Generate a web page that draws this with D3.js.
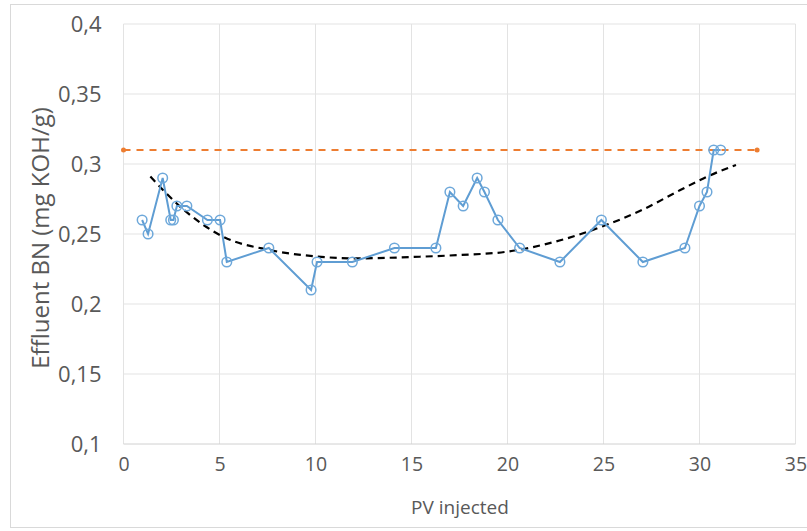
<!DOCTYPE html>
<html>
<head>
<meta charset="utf-8">
<script src="https://cdn.jsdelivr.net/npm/d3@7"></script>
<style>
  html, body { margin: 0; padding: 0; background: #fff; }
  svg { display: block; }
  text { font-family: "Open Sans", sans-serif; fill: #595959; }
</style>
</head>
<body>
<svg id="chart" width="807" height="531"></svg>
<script>
// Effluent base number measured against pore volumes injected
const pvInjected = [0.97, 1.28, 2.04, 2.46, 2.60, 2.78, 3.30, 4.37, 5.03, 5.38, 7.57, 9.77, 10.08,
  11.92, 14.11, 16.27, 17.0, 17.69, 18.42, 18.8, 19.5, 20.63, 22.73, 24.89, 27.05, 29.24, 30.0,
  30.39, 30.74, 31.1];
const effluentBN = [0.26, 0.25, 0.29, 0.26, 0.26, 0.27, 0.27, 0.26, 0.26, 0.23, 0.24, 0.21, 0.23,
  0.23, 0.24, 0.24, 0.28, 0.27, 0.29, 0.28, 0.26, 0.24, 0.23, 0.26, 0.23, 0.24, 0.27,
  0.28, 0.31, 0.31];

// Initial (feed) base number reference line
const feedPV = [0, 33];
const feedBN = [0.31, 0.31];

// Trend line through the effluent values
const trendPV = [1.4, 3.0, 5.2, 7.6, 10.0, 12.0, 15.5, 17.5, 20.0, 22.8, 24.9, 27.0, 29.0, 30.4, 31.9];
const trendBN = [0.291, 0.269, 0.248, 0.2386, 0.234, 0.2326, 0.2338, 0.235, 0.2374, 0.2457, 0.2552,
  0.2671, 0.2814, 0.291, 0.2993];

const xTicks = [0, 5, 10, 15, 20, 25, 30, 35];
const yTicks = [0.1, 0.15, 0.2, 0.25, 0.3, 0.35, 0.4];

const svg = d3.select("#chart");
const plot = { left: 123.5, right: 795.5, top: 24, bottom: 444 };

const x = d3.scaleLinear().domain([0, 35]).range([plot.left, plot.right]);
const y = d3.scaleLinear().domain([0.1, 0.4]).range([plot.bottom, plot.top]);
const fmt = d => String(d).replace(".", ",");

// outer chart frame
svg.append("rect")
  .attr("x", 10.5).attr("y", 4.5).attr("width", 820).attr("height", 523)
  .attr("fill", "none").attr("stroke", "#d9d9d9").attr("stroke-width", 1);

// gridlines
const grid = svg.append("g");
grid.selectAll("line.v").data(xTicks).join("line")
  .attr("x1", d => x(d)).attr("x2", d => x(d))
  .attr("y1", plot.top).attr("y2", plot.bottom)
  .attr("stroke", "#e3e3e3").attr("stroke-width", 1);
grid.selectAll("line.h").data(yTicks).join("line")
  .attr("x1", plot.left).attr("x2", plot.right)
  .attr("y1", d => y(d)).attr("y2", d => y(d))
  .attr("stroke", d => d === 0.1 ? "#d0d0d0" : "#e3e3e3").attr("stroke-width", 1);

// axes (labels only)
const xAxis = svg.append("g").attr("transform", `translate(0,${plot.bottom})`)
  .call(d3.axisBottom(x).tickValues(xTicks).tickFormat(fmt).tickSize(0).tickPadding(13));
const yAxis = svg.append("g").attr("transform", `translate(${plot.left},0)`)
  .call(d3.axisLeft(y).tickValues(yTicks).tickFormat(fmt).tickSize(0).tickPadding(22));
[xAxis, yAxis].forEach(a => {
  a.select(".domain").remove();
  a.selectAll("text").style("font-family", "'Open Sans', sans-serif").attr("fill", "#5f5f5f");
});
xAxis.selectAll("text").style("font-size", "19.5px");
yAxis.selectAll("text").style("font-size", "22px");

// axis titles
svg.append("text").attr("x", 460).attr("y", 514).attr("text-anchor", "middle")
  .attr("fill", "#5f5f5f").style("font-size", "19px").text("PV injected");
svg.append("text").attr("transform", "translate(41,238) rotate(-90)").attr("text-anchor", "middle")
  .attr("fill", "#5f5f5f").attr("dy", "0.35em").style("font-size", "24px").text("Effluent BN (mg KOH/g)");

// feed BN reference line
const feed = feedPV.map((v, i) => [v, feedBN[i]]);
svg.append("path").datum(feed)
  .attr("d", d3.line().x(d => x(d[0])).y(d => y(d[1])))
  .attr("fill", "none").attr("stroke", "#ed7d31").attr("stroke-width", 2)
  .attr("stroke-dasharray", "7,6");
svg.selectAll("circle.feed").data(feed).join("circle")
  .attr("cx", d => x(d[0])).attr("cy", d => y(d[1])).attr("r", 2.5)
  .attr("fill", "#ed7d31");

// trend line
const trend = trendPV.map((v, i) => [v, trendBN[i]]);
svg.append("path").datum(trend)
  .attr("d", d3.line().curve(d3.curveMonotoneX).x(d => x(d[0])).y(d => y(d[1])))
  .attr("fill", "none").attr("stroke", "#000").attr("stroke-width", 2.2)
  .attr("stroke-dasharray", "7,5");

// effluent series
const eff = pvInjected.map((v, i) => [v, effluentBN[i]]);
svg.append("path").datum(eff)
  .attr("d", d3.line().x(d => x(d[0])).y(d => y(d[1])))
  .attr("fill", "none").attr("stroke", "#5f9dd3").attr("stroke-width", 2);
svg.selectAll("circle.eff").data(eff).join("circle")
  .attr("cx", d => x(d[0])).attr("cy", d => y(d[1])).attr("r", 4.8)
  .attr("fill", "none").attr("stroke", "#6ea8da").attr("stroke-width", 1.5);
</script>
</body>
</html>
